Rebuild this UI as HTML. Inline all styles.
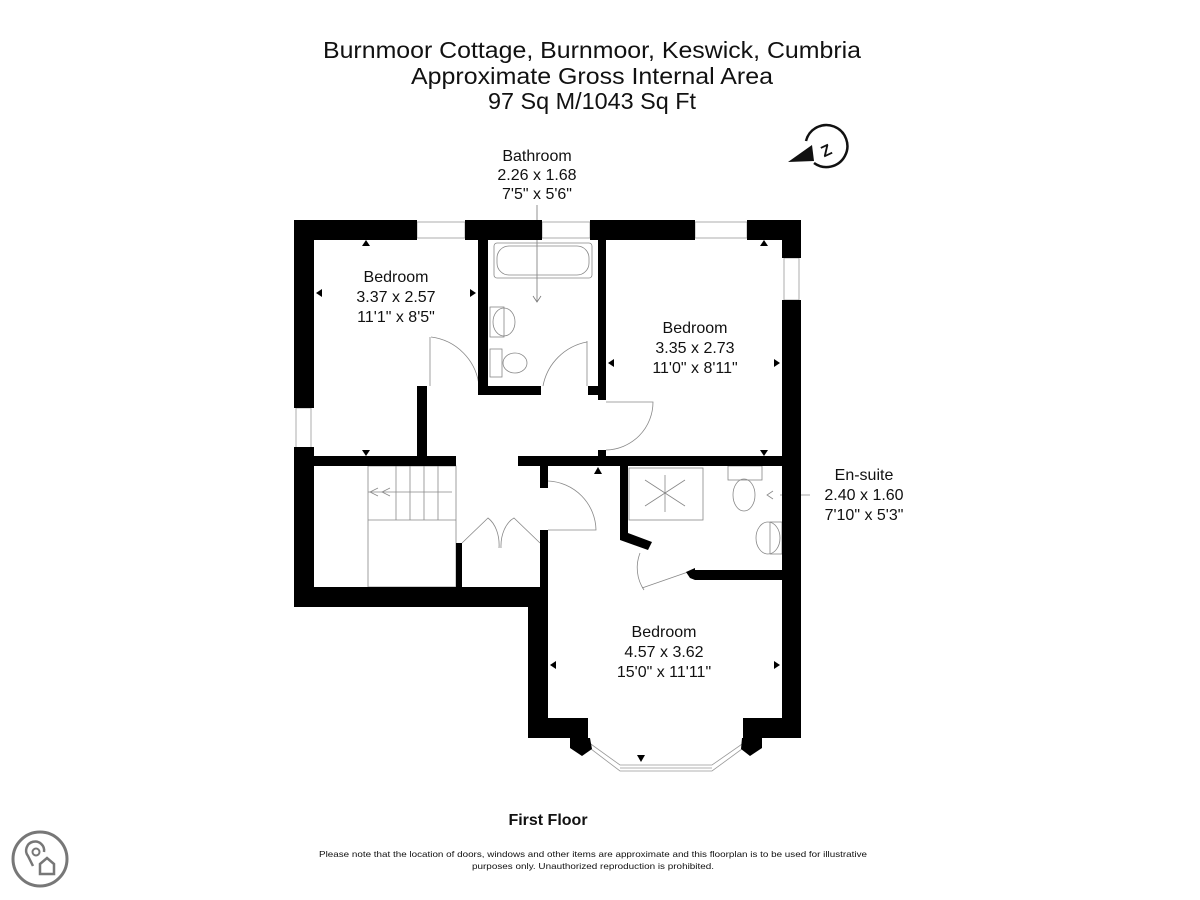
<!DOCTYPE html>
<html><head><meta charset="utf-8"><style>
html,body{margin:0;padding:0;background:#fff;}
svg{display:block;}
text{font-family:"Liberation Sans",sans-serif;fill:#111;}
</style></head><body>
<svg width="1200" height="900" viewBox="0 0 1200 900" xmlns="http://www.w3.org/2000/svg">
<rect width="1200" height="900" fill="#fff"/>
<!-- Title -->
<text x="592" y="58" font-size="23" text-anchor="middle" textLength="538" lengthAdjust="spacingAndGlyphs">Burnmoor Cottage, Burnmoor, Keswick, Cumbria</text>
<text x="592" y="84" font-size="23" text-anchor="middle" textLength="362" lengthAdjust="spacingAndGlyphs">Approximate Gross Internal Area</text>
<text x="592" y="109" font-size="23" text-anchor="middle" textLength="208" lengthAdjust="spacingAndGlyphs">97 Sq M/1043 Sq Ft</text>

<!-- Compass -->
<g>
<path d="M806 141 A21 21 0 1 1 814 163" fill="none" stroke="#111" stroke-width="2.5"/>
<polygon points="788,162 812,145 814,161" fill="#111"/>
<text x="826" y="156" font-size="16" font-weight="bold" text-anchor="middle" transform="rotate(-25 826 150)">Z</text>
</g>

<!-- Bathroom label -->
<g font-size="16" text-anchor="middle">
<text x="537" y="161">Bathroom</text>
<text x="537" y="180">2.26 x 1.68</text>
<text x="537" y="199">7'5" x 5'6"</text>
</g>
<line x1="537" y1="205" x2="537" y2="302" stroke="#777" stroke-width="0.8"/>
<path d="M533 296 L537 302 L541 296" fill="none" stroke="#777" stroke-width="0.8"/>

<!-- Fixtures (thin lines) -->
<g fill="none" stroke="#888" stroke-width="0.8">
<rect x="494" y="243" width="98" height="35" rx="3"/>
<rect x="497" y="246" width="92" height="29" rx="12"/>
<rect x="490" y="307" width="14" height="30"/><ellipse cx="504" cy="322" rx="11" ry="14"/>
<rect x="490" y="349" width="12" height="28"/><ellipse cx="515" cy="363" rx="12" ry="10"/>
<!-- stairs -->
<rect x="368" y="466" width="88" height="121"/>
<line x1="368" y1="520" x2="456" y2="520"/>
<line x1="396" y1="466" x2="396" y2="520"/><line x1="410" y1="466" x2="410" y2="520"/>
<line x1="424" y1="466" x2="424" y2="520"/><line x1="438" y1="466" x2="438" y2="520"/>
<line x1="368" y1="492" x2="452" y2="492"/>
<path d="M378 488 L370 492 L378 496 M390 488 L382 492 L390 496"/>
<!-- shower -->
<rect x="629" y="468" width="74" height="52"/>
<path d="M645 480 L685 506 M645 506 L685 480 M665 475 L665 512"/>
<!-- ensuite wc, basin -->
<rect x="728" y="466" width="34" height="14"/><ellipse cx="744" cy="495" rx="11" ry="16"/>
<ellipse cx="768" cy="538" rx="12" ry="16"/><rect x="770" y="522" width="12" height="32"/>
<line x1="780" y1="495" x2="810" y2="495"/><path d="M773 491 L767 495 L773 499"/>
<!-- door arcs -->
<path d="M431 337 A55 55 0 0 1 479 386"/><line x1="430" y1="337" x2="430" y2="386"/>
<path d="M587 342 A55 55 0 0 0 543 386"/><line x1="587" y1="341" x2="587" y2="386"/>
<path d="M606 402 L653 402 A48 48 0 0 1 606 450"/>
<path d="M548 481 A50 50 0 0 1 596 530 L548 530"/>
<path d="M462 543 L488 518 A20 30 0 0 1 499 548 M540 543 L514 518 A20 30 0 0 0 501 548"/>
<path d="M644 590 A40 40 0 0 1 640 553 M642 588 L688 572"/>
<!-- windows -->
<g stroke="#999">
<rect x="417" y="222" width="48" height="16"/><rect x="542" y="222" width="48" height="16"/><rect x="695" y="222" width="52" height="16"/>
<rect x="784" y="258" width="15" height="42"/><rect x="296" y="408" width="15" height="40"/>
<polygon points="588,742 620,765 712,765 745,742 742,749 712,771 620,771 591,749"/>
<line x1="620" y1="768" x2="712" y2="768"/>
</g>
</g>

<!-- Walls -->
<g fill="#000">
<rect x="294" y="220" width="123" height="20"/>
<rect x="465" y="220" width="77" height="20"/>
<rect x="590" y="220" width="105" height="20"/>
<rect x="747" y="220" width="54" height="20"/>
<rect x="782" y="220" width="19" height="38"/>
<rect x="782" y="300" width="19" height="438"/>
<rect x="294" y="220" width="20" height="188"/>
<rect x="294" y="447" width="20" height="160"/>
<rect x="294" y="587" width="254" height="20"/>
<rect x="294" y="456" width="162" height="10"/>
<rect x="518" y="456" width="283" height="10"/>
<rect x="417" y="386" width="10" height="76"/>
<rect x="478" y="240" width="10" height="155"/>
<rect x="478" y="386" width="63" height="9"/>
<rect x="588" y="386" width="12" height="9"/>
<rect x="598" y="240" width="8" height="160"/>
<rect x="598" y="450" width="8" height="10"/>
<rect x="540" y="466" width="8" height="22"/>
<rect x="540" y="530" width="8" height="75"/>
<rect x="528" y="587" width="20" height="151"/>
<rect x="456" y="543" width="6" height="50"/>
<rect x="528" y="718" width="60" height="20"/>
<rect x="743" y="718" width="58" height="20"/>
<polygon points="570,738 590,738 592,749 582,756 570,748"/>
<polygon points="742,738 762,738 762,748 750,756 741,749"/>
<polygon points="620,466 628,466 628,533 652,542 648,550 620,540"/>
<polygon points="686,572 695,568 695,570 782,570 782,580 695,580 690,578"/>
<!-- dimension arrowheads -->
<polygon points="362,246 366,240 370,246"/><polygon points="362,450 366,456 370,450"/>
<polygon points="316,293 322,289 322,297"/><polygon points="476,293 470,289 470,297"/>
<polygon points="760,246 764,240 768,246"/><polygon points="760,450 764,456 768,450"/>
<polygon points="608,363 614,359 614,367"/><polygon points="780,363 774,359 774,367"/>
<polygon points="594,474 598,467 602,474"/>
<polygon points="550,665 556,661 556,669"/><polygon points="780,665 774,661 774,669"/>
<polygon points="637,755 641,762 645,755"/>
</g>

<!-- Room labels -->
<g font-size="16" text-anchor="middle">
<text x="396" y="282">Bedroom</text><text x="396" y="302">3.37 x 2.57</text><text x="396" y="322">11'1" x 8'5"</text>
<text x="695" y="333">Bedroom</text><text x="695" y="353">3.35 x 2.73</text><text x="695" y="373">11'0" x 8'11"</text>
<text x="664" y="637">Bedroom</text><text x="664" y="657">4.57 x 3.62</text><text x="664" y="677">15'0" x 11'11"</text>
<text x="864" y="480">En-suite</text><text x="864" y="500">2.40 x 1.60</text><text x="864" y="520">7'10" x 5'3"</text>
</g>

<text x="548" y="825" font-size="16" font-weight="bold" text-anchor="middle">First Floor</text>
<text x="593" y="857" font-size="8.5" text-anchor="middle" fill="#444" textLength="548" lengthAdjust="spacingAndGlyphs">Please note that the location of doors, windows and other items are approximate and this floorplan is to be used for illustrative</text>
<text x="593" y="869" font-size="8.5" text-anchor="middle" fill="#444" textLength="242" lengthAdjust="spacingAndGlyphs">purposes only. Unauthorized reproduction is prohibited.</text>

<!-- logo -->
<g fill="none" stroke="#777" stroke-width="3">
<circle cx="40" cy="859" r="27"/>
<path d="M33 866 L28 856 A9 9 0 1 1 44 852" stroke-width="2.5"/>
<circle cx="36" cy="852" r="3.5" stroke-width="2"/>
<path d="M40 874 L40 864 L47 858 L54 864 L54 874 Z" stroke-width="2.5"/>
</g>
</svg>
</body></html>
